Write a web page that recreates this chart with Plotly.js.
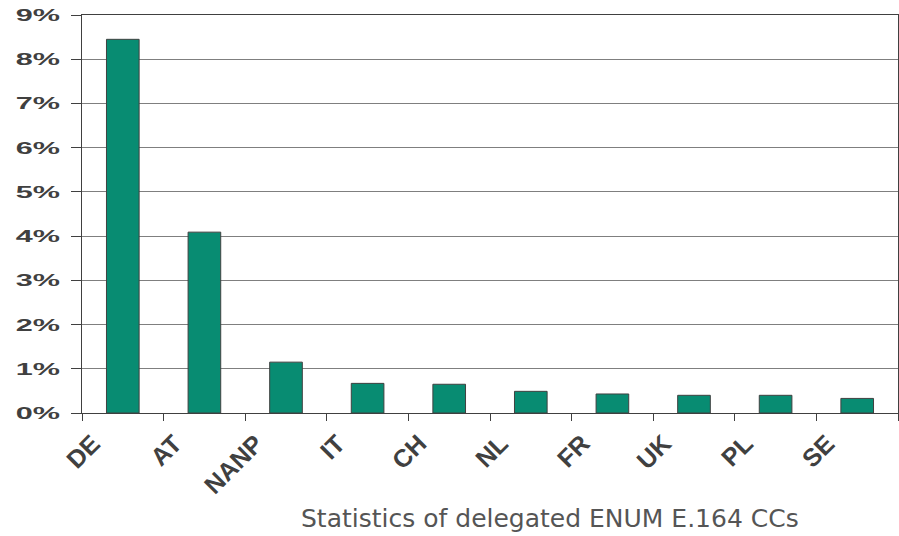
<!DOCTYPE html>
<html>
<head>
<meta charset="utf-8">
<script src="https://cdn.plot.ly/plotly-3.0.1.min.js"></script>
<style>
html,body{margin:0;padding:0;background:#fff;}
#chart{width:899px;height:536px;}
</style>
</head>
<body>
<div id="chart"></div>
<script>
var categories = ['DE', 'AT', 'NANP', 'IT', 'CH', 'NL', 'FR', 'UK', 'PL', 'SE'];
var sharePercent = [8.45, 4.09, 1.15, 0.67, 0.65, 0.49, 0.43, 0.40, 0.40, 0.33];
var yTickValues = [0, 1, 2, 3, 4, 5, 6, 7, 8, 9];
var yTickLabels = ['0%', '1%', '2%', '3%', '4%', '5%', '6%', '7%', '8%', '9%'];
var chartTitle = 'Statistics of delegated ENUM E.164 CCs';

var textColor = '#404040';

var trace = {
  type: 'bar',
  x: categories,
  y: sharePercent,
  width: 0.4,
  marker: {color: '#088C72', line: {color: '#404040', width: 1}},
  hoverinfo: 'x+y'
};

var layout = {
  width: 899,
  height: 536,
  margin: {l: 82, r: 1, t: 15, b: 123},
  paper_bgcolor: '#ffffff',
  plot_bgcolor: '#ffffff',
  showlegend: false,
  xaxis: {
    type: 'category',
    tickson: 'boundaries',
    ticks: 'outside',
    ticklen: 7,
    tickwidth: 1,
    tickcolor: '#404040',
    showline: true,
    linecolor: '#404040',
    linewidth: 1,
    mirror: true,
    showgrid: false,
    zeroline: false,
    tickangle: -45,
    ticklabelshift: -30,
    ticklabelstandoff: 5,
    tickfont: {family: 'Liberation Sans, Arial, sans-serif', size: 25, color: textColor, weight: 'bold'}
  },
  yaxis: {
    range: [0, 9],
    tickmode: 'array',
    tickvals: yTickValues,
    ticktext: yTickLabels,
    ticks: 'outside',
    ticklen: 10,
    tickwidth: 1,
    tickcolor: '#404040',
    showline: true,
    linecolor: '#404040',
    linewidth: 1.5,
    mirror: true,
    showgrid: true,
    gridcolor: '#7f7f7f',
    gridwidth: 1,
    zeroline: false,
    ticklabelstandoff: 7,
    tickfont: {family: 'Liberation Sans, Arial, sans-serif', size: 17, color: textColor, weight: 'bold'}
  },
  annotations: [{
    text: chartTitle,
    xref: 'paper', yref: 'paper',
    x: 0.5735, y: -0.266,
    xanchor: 'center', yanchor: 'middle',
    showarrow: false,
    font: {family: 'DejaVu Sans, Verdana, sans-serif', size: 25, color: '#555555'}
  }]
};

function stretchYLabels() {
  var texts = document.querySelectorAll('#chart .ytick text');
  texts.forEach(function (t) {
    var x = parseFloat(t.getAttribute('x')) || 0;
    var base = t.getAttribute('data-base-transform');
    if (base === null) {
      base = t.getAttribute('transform') || '';
      t.setAttribute('data-base-transform', base);
    }
    t.setAttribute('transform', base + ' translate(' + x + ',0) scale(1.8,1) translate(' + (-x) + ',0)');
  });
}

Plotly.newPlot('chart', [trace], layout, {displayModeBar: false, staticPlot: true}).then(stretchYLabels);
</script>
</body>
</html>
